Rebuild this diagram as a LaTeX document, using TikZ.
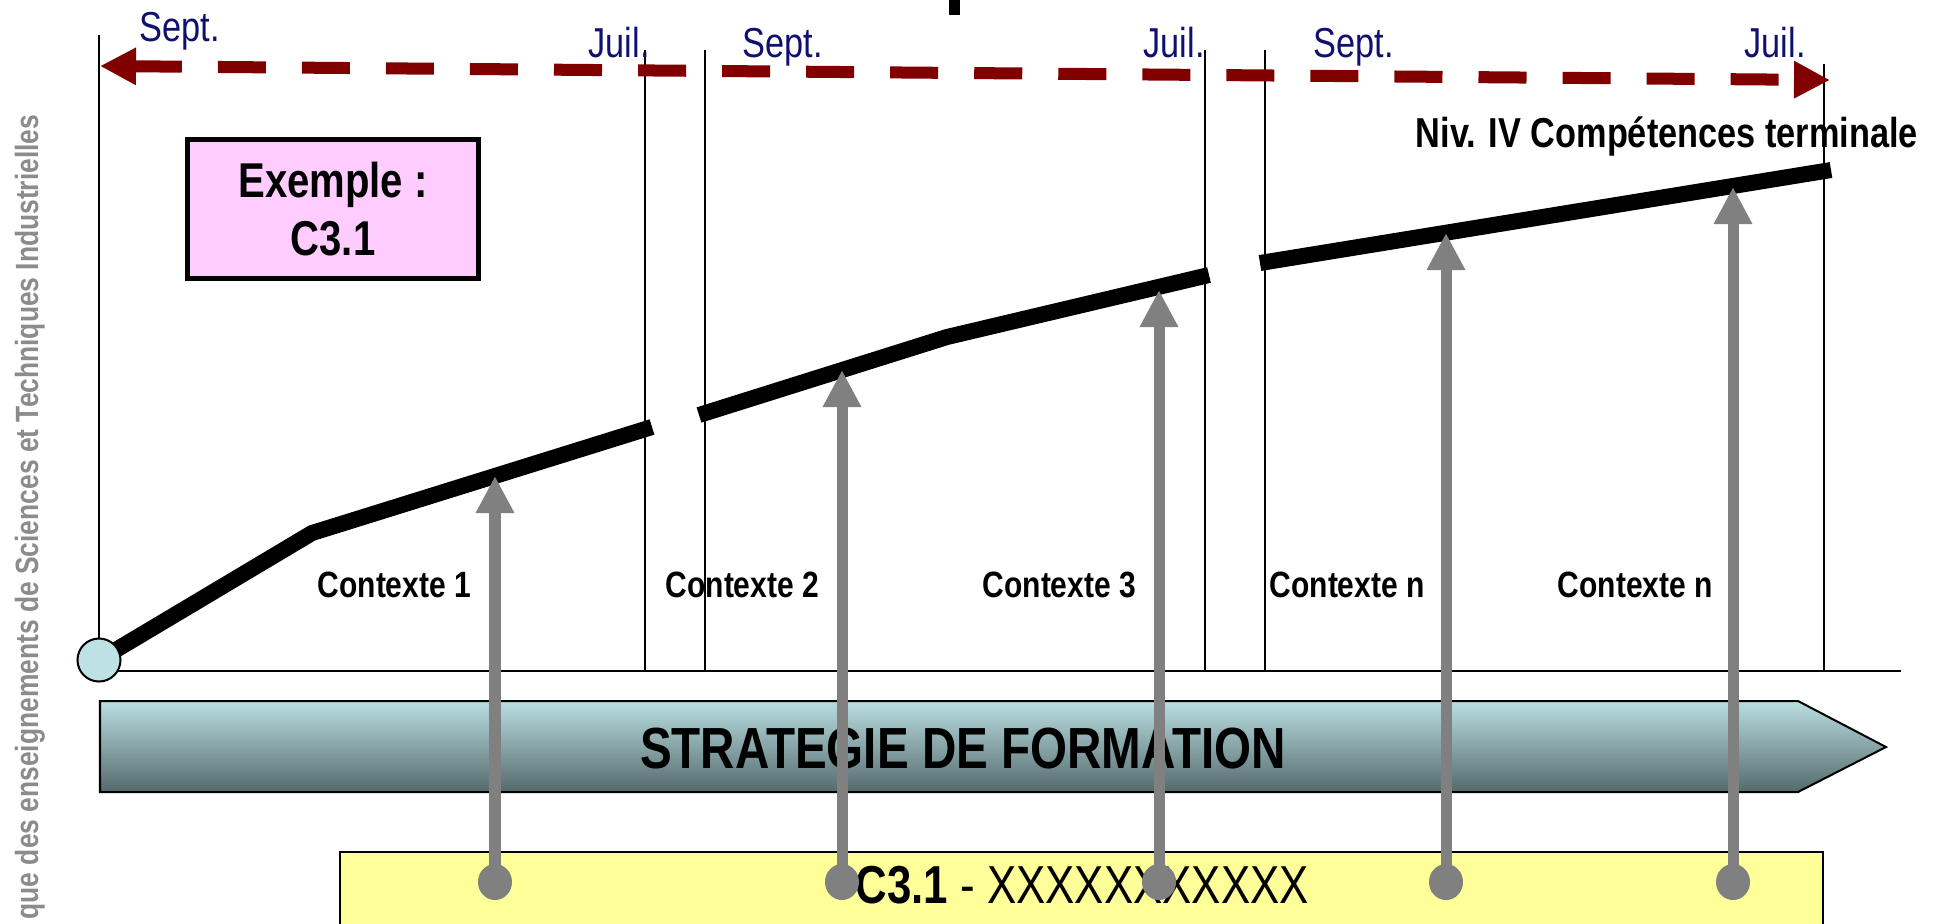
\documentclass[tikz,border=0pt]{standalone}
\usepackage{fontspec}
\setmainfont[FakeStretch=0.82]{Liberation Sans}
\usetikzlibrary{arrows.meta,shapes.geometric}
\definecolor{darkred}{RGB}{128,0,0}
\definecolor{navytxt}{RGB}{16,16,112}
\definecolor{pinkfill}{RGB}{255,204,255}
\definecolor{yellowfill}{RGB}{255,255,153}
\definecolor{arrowgrey}{RGB}{128,128,128}
\definecolor{sidegrey}{RGB}{140,140,140}
\definecolor{bandtop}{RGB}{186,222,226}
\definecolor{bandmid}{RGB}{146,180,183}
\definecolor{bandbot}{RGB}{84,106,108}
\definecolor{startfill}{RGB}{189,225,228}
\tikzset{
  monthlbl/.style={text=navytxt, inner sep=0pt, anchor=base west, font=\fontsize{11.9pt}{14pt}\selectfont},
  ctxlbl/.style={inner sep=0pt, anchor=base west, font=\bfseries\fontsize{10.4pt}{12pt}\selectfont},
  vline/.style={line width=0.02cm, black},
  curve/.style={line width=0.16cm, black, line cap=butt, line join=miter},
  garrow/.style={line width=0.11cm, arrowgrey, -{Triangle[width=0.36cm,length=0.37cm]}},
  gdot/.style={ellipse, fill=arrowgrey, minimum width=0.34cm, minimum height=0.36cm, inner sep=0pt},
  yeararrow/.style={line width=0.12cm, darkred, dash pattern=on 0.48cm off 0.36cm,
    {Triangle[width=0.35cm,length=0.36cm]}-{Triangle[width=0.35cm,length=0.36cm]}},
}
\begin{document}
\begin{tikzpicture}[x=0.01cm, y=-0.01cm]
\useasboundingbox (0,0) rectangle (1941,923);
\clip (0,0) rectangle (1941,923);
\fill[white] (0,0) rectangle (1941,923);

% cut-off title mark
\fill[black] (949,0) rectangle (960,15);

% side vertical text
\node[text=sidegrey, rotate=90, anchor=base east, inner sep=0pt,
  font=\bfseries\fontsize{9.15pt}{11pt}\selectfont] (side) at (38,114)
  {que des enseignements de Sciences et Techniques Industrielles};

% vertical period lines
\draw[vline] (99,35) -- (99,671);
\draw[vline] (645,50) -- (645,671);
\draw[vline] (705,50) -- (705,671);
\draw[vline] (1205,50) -- (1205,671);
\draw[vline] (1265,50) -- (1265,671);
\draw[vline] (1824,64) -- (1824,671);
% baseline
\draw[line width=0.025cm] (99,671) -- (1901,671);

% year arrow
\coordinate (ya) at (100,66);
\coordinate (yb) at (1830,80);
\draw[yeararrow] (ya) -- (yb);

% month labels
\node[monthlbl] (s1) at (139,41) {Sept.};
\node[monthlbl] (j1) at (588,57) {Juil.};
\node[monthlbl] (s2) at (742,57) {Sept.};
\node[monthlbl] (j2) at (1143,57) {Juil.};
\node[monthlbl] (s3) at (1313,57) {Sept.};
\node[monthlbl] (j3) at (1744,57) {Juil.};

% example box
\node[draw, line width=0.05cm, fill=pinkfill, minimum width=2.91cm, minimum height=1.38cm,
  align=center, font=\bfseries\fontsize{13.9pt}{16.7pt}\selectfont] (ex) at (333,209)
  {Exemple :\\C3.1};

% level label
\node[inner sep=0pt, anchor=base west, font=\bfseries\fontsize{11.9pt}{14pt}\selectfont]
  (niv) at (1415,147) {Niv. IV Compétences terminale};

% competence curve
\coordinate (s0) at (99,660);
\coordinate (k1) at (312,533);
\coordinate (e1) at (652,427);
\coordinate (b0) at (699,415);
\coordinate (k2) at (947,337);
\coordinate (e2) at (1209,275);
\coordinate (c0) at (1260,263);
\coordinate (e3) at (1831,170);
\draw[curve] (s0) -- (k1) -- (e1);
\draw[curve] (b0) -- (k2) -- (e2);
\draw[curve] (c0) -- (e3);
\node[circle, draw, line width=0.02cm, fill=startfill, minimum size=0.43cm, inner sep=0pt] (start) at (s0) {};

% context labels
\node[ctxlbl] (cx1) at (317,597) {Contexte 1};
\node[ctxlbl] (cx2) at (665,597) {Contexte 2};
\node[ctxlbl] (cx3) at (982,597) {Contexte 3};
\node[ctxlbl] (cx4) at (1269,597) {Contexte n};
\node[ctxlbl] (cx5) at (1557,597) {Contexte n};

% strategy band
\shade[top color=bandtop, middle color=bandmid, bottom color=bandbot]
  (100,701) -- (1798,701) -- (1886,747) -- (1798,792) -- (100,792) -- cycle;
\draw[line width=0.02cm] (100,701) -- (1798,701) -- (1886,747) -- (1798,792) -- (100,792) -- cycle;
\node[inner sep=0pt, anchor=base, font=\bfseries\fontsize{16.5pt}{19pt}\selectfont]
  (strat) at (963,768) {STRATEGIE DE FORMATION};

% competence box
\draw[line width=0.025cm, fill=yellowfill] (340,852) rectangle (1823,1000);
\node[inner sep=0pt, anchor=base west, font=\fontsize{15.2pt}{18pt}\selectfont]
  (comp) at (855,903) {\textbf{C3.1} - XXXXXXXXXXX};

% grey arrows
\coordinate (t1) at (495,476);
\coordinate (t2) at (842,370);
\coordinate (t3) at (1159,290);
\coordinate (t4) at (1446,233);
\coordinate (t5) at (1733,187);
\node[gdot] (d1) at (495,882) {};
\node[gdot] (d2) at (842,882) {};
\node[gdot] (d3) at (1159,882) {};
\node[gdot] (d4) at (1446,882) {};
\node[gdot] (d5) at (1733,882) {};
\draw[garrow] (d1.center) -- (t1);
\draw[garrow] (d2.center) -- (t2);
\draw[garrow] (d3.center) -- (t3);
\draw[garrow] (d4.center) -- (t4);
\draw[garrow] (d5.center) -- (t5);
\end{tikzpicture}
\end{document}
